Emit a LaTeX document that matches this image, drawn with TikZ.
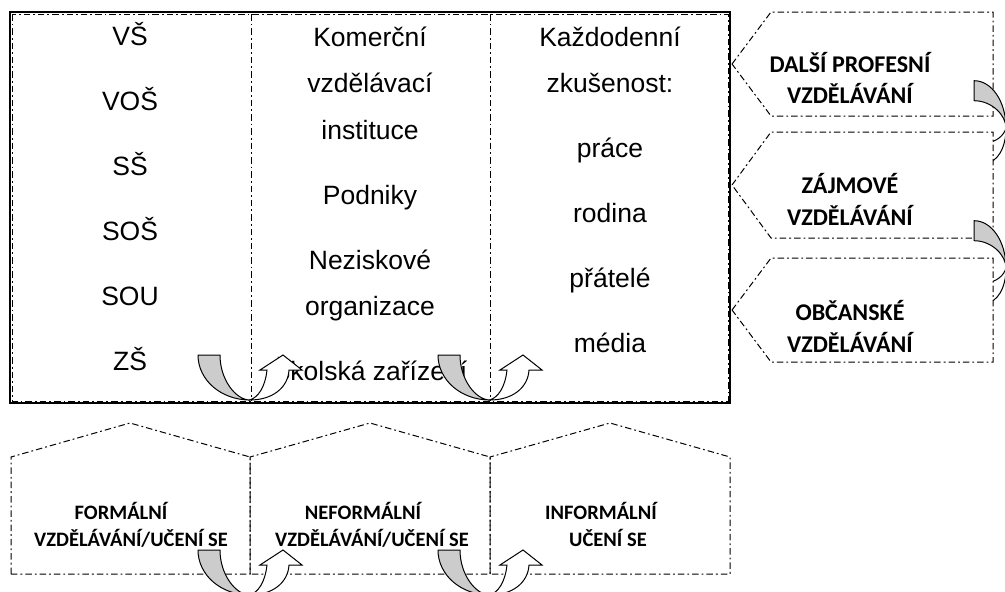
\documentclass[tikz,border=0pt]{standalone}
\usepackage{fontspec}
\setmainfont{Liberation Sans}
\newfontfamily\calfont{Carlito}
\tikzset{
 dd/.style={line width=1pt, dash pattern=on 6.5pt off 3pt on 1.8pt off 3pt, draw=black},
 toptext/.style={font=\fontsize{26.5}{30}\selectfont, anchor=base, inner sep=0pt},
 rlab/.style={font=\calfont\bfseries\fontsize{24}{29}\selectfont, anchor=base, inner sep=0pt},
 blab/.style={font=\calfont\bfseries\fontsize{20.5}{25}\selectfont, anchor=base, inner sep=0pt},
 grayband/.style={fill=black!20, draw=black, line width=1pt, line join=round},
 whitearr/.style={fill=white, draw=black, line width=1pt, line join=miter},
 pent/.style={dd, fill=white},
}
\newcommand\mycurvedarrow{%
 \path[grayband] (-52,-45) -- (-30,-45) .. controls (-30,-20) and (-14,0) .. (0,0) .. controls (-29,0) and (-52,-20) .. (-52,-45) -- cycle;
 \path[whitearr] (0,0) .. controls (22,0) and (38,-12) .. (39,-30) -- (52,-30) -- (33,-45) -- (10,-30) -- (17,-30) .. controls (15,-12) and (8,-3) .. (0,0) -- cycle;
}
\begin{document}
\begin{tikzpicture}[x=1pt,y=-1pt]
\useasboundingbox (0,0) rectangle (1005,592);
% top box
\draw[line width=1.3pt] (10,12) rectangle (730,403);
\draw[dd] (12,14) rectangle (728,401);
\draw[dd] (251,14) -- (251,401);
\draw[dd] (490,14) -- (490,401);
% left column
\node[toptext] (l1) at (130,45) {VŠ};
\node[toptext] (l2) at (130,110) {VOŠ};
\node[toptext] (l3) at (130,175) {SŠ};
\node[toptext] (l4) at (130,240) {SOŠ};
\node[toptext] (l5) at (130,305) {SOU};
\node[toptext] (l6) at (130,370) {ZŠ};
% middle column
\node[toptext] (m1) at (370,46) {Komerční};
\node[toptext] (m2) at (370,92) {vzdělávací};
\node[toptext] (m3) at (370,139) {instituce};
\node[toptext] (m4) at (370,204) {Podniky};
\node[toptext] (m5) at (370,269) {Neziskové};
\node[toptext] (m6) at (370,315) {organizace};
\node[toptext] (m7) at (370,380) {Školská zařízení};
% right column
\node[toptext] (c1) at (610,46) {Každodenní};
\node[toptext] (c2) at (610,92) {zkušenost:};
\node[toptext] (c3) at (610,157) {práce};
\node[toptext] (c4) at (610,222) {rodina};
\node[toptext] (c5) at (610,287) {přátelé};
\node[toptext] (c6) at (610,352) {média};
% arrows in top box
\begin{scope}[shift={(250,400)}]\mycurvedarrow\end{scope}
\begin{scope}[shift={(490,400)}]\mycurvedarrow\end{scope}
% right pentagons and arrows
\path[pent] (732,64) -- (771,12) -- (993,12) -- (993,116) -- (771,116) -- cycle;
\node[rlab] (r1a) at (850,72) {DALŠÍ PROFESNÍ};
\node[rlab] (r1b) at (850,103) {VZDĚLÁVÁNÍ};
\begin{scope}[shift={(1006,128)}]\begin{scope}[cm={0,-0.91,-0.71,0,(0,0)}]\mycurvedarrow\end{scope}\end{scope}
\path[pent] (732,185) -- (771,132) -- (993,132) -- (993,238) -- (771,238) -- cycle;
\node[rlab] (r2a) at (850,193) {ZÁJMOVÉ};
\node[rlab] (r2b) at (850,225) {VZDĚLÁVÁNÍ};
\begin{scope}[shift={(1006,268)}]\begin{scope}[cm={0,-0.91,-0.71,0,(0,0)}]\mycurvedarrow\end{scope}\end{scope}
\path[pent] (732,310) -- (771,258) -- (993,258) -- (993,362) -- (771,362) -- cycle;
\node[rlab] (r3a) at (850,320) {OBČANSKÉ};
\node[rlab] (r3b) at (850,352) {VZDĚLÁVÁNÍ};
% bottom pentagons
\path[dd] (11,574) -- (11,457) -- (130,423) -- (250,457) -- (250,574) -- cycle;
\path[dd] (250,574) -- (250,457) -- (370,423) -- (490,457) -- (490,574) -- cycle;
\path[dd] (490,574) -- (490,457) -- (610,423) -- (730,457) -- (730,574) -- cycle;
\node[blab] (b1a) at (121,519) {FORMÁLNÍ};
\node[blab] (b1b) at (131,546) {VZDĚLÁVÁNÍ/UČENÍ SE};
\node[blab] (b2a) at (363,519) {NEFORMÁLNÍ};
\node[blab] (b2b) at (372,546) {VZDĚLÁVÁNÍ/UČENÍ SE};
\node[blab] (b3a) at (601,519) {INFORMÁLNÍ};
\node[blab] (b3b) at (608,546) {UČENÍ SE};
\begin{scope}[shift={(250,595)}]\mycurvedarrow\end{scope}
\begin{scope}[shift={(490,595)}]\mycurvedarrow\end{scope}
\end{tikzpicture}
\end{document}
